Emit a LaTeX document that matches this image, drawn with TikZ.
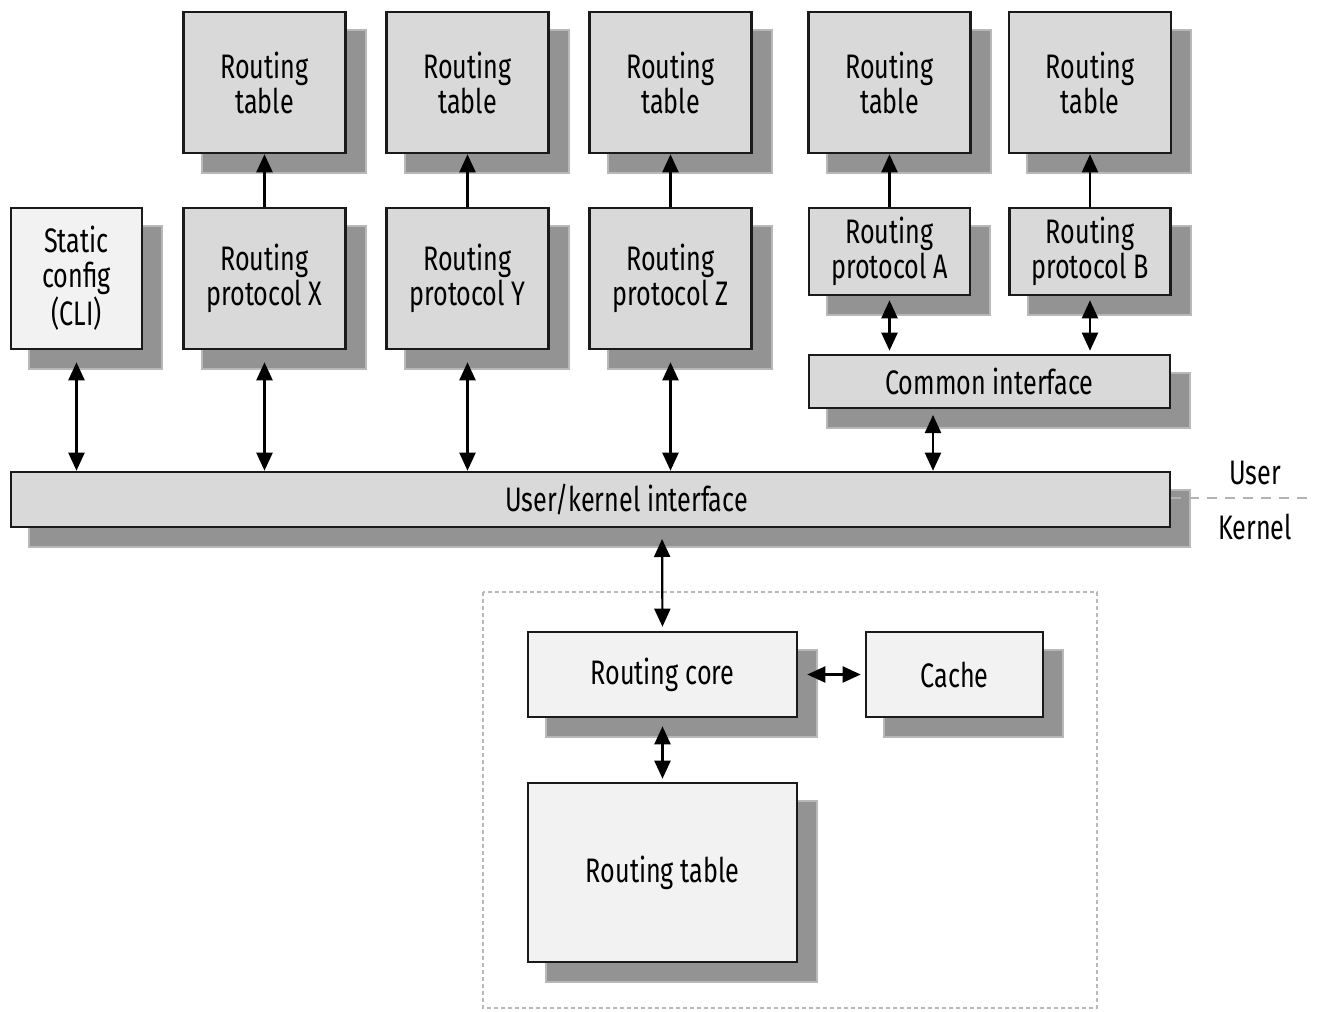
\documentclass[tikz,border=0pt]{standalone}
\usepackage{fontspec}
\setmainfont[FakeStretch=0.74]{Fira Sans}
\usetikzlibrary{arrows.meta, positioning, shadows}
\definecolor{rtfill}{HTML}{D9D9D9}
\definecolor{rtlight}{HTML}{F2F2F2}
\definecolor{rtline}{HTML}{1A1A1A}
\definecolor{rtshade}{HTML}{939393}
\definecolor{rtfringe}{HTML}{B8B8B8}

\tikzset{
  dims/.style 2 args={minimum width=#1*0.5pt, minimum height=#2*0.5pt},
  box/.style={draw=rtline, line width=1.3pt, fill=rtfill, align=center, inner sep=0pt,
    font=\fontsize{17}{17.5}\selectfont,
    general shadow={shadow xshift=9.5pt, shadow yshift=-9.5pt, fill=rtfringe, draw=rtfringe, line width=2pt},
    general shadow={shadow xshift=9.5pt, shadow yshift=-9.5pt, fill=rtshade}},
  lightbox/.style={box, fill=rtlight},
  link/.style={line width=1.1pt, -{Triangle[length=9pt, width=8pt]}},
  dlink/.style={line width=1.1pt, {Triangle[length=9pt, width=8pt]}-{Triangle[length=9pt, width=8pt]}},
}

\begin{document}
\begin{tikzpicture}[x=0.5pt, y=-0.5pt]
  \useasboundingbox (0,0) rectangle (1319,1012);

  % kernel side boundary
  \draw[gray!55, line width=0.6pt, dash pattern=on 2pt off 1.5pt] (483,592) rectangle (1097,1008);

  % user space: one table per protocol
  \foreach \nm/\cx in {x/264.5, y/467.5, z/670.5, a/889.5, b/1090} {
    \node[box, dims={162}{141}] (tab\nm) at (\cx,82.5) {Routing\\table};
  }
  \node[lightbox, dims={131}{141}] (st) at (76.5,278.5) {Static\\config\\(CLI)};
  \foreach \nm/\cx/\lt in {x/264.5/X, y/467.5/Y, z/670.5/Z} {
    \node[box, dims={162}{141}] (pro\nm) at (\cx,278.5) {Routing\\protocol \lt};
  }
  \foreach \nm/\cx/\lt in {a/889.5/A, b/1090/B} {
    \node[box, dims={161}{87}] (pro\nm) at (\cx,251.5) {Routing\\protocol \lt};
  }
  \node[box, dims={361}{53}] (common) at (989.5,381.5) {Common interface};
  \node[box, dims={1159}{55}] (uki) at (590.5,499.5) {\hspace*{36pt}User/kernel interface};

  % kernel
  \node[lightbox, dims={269}{85}] (core) at (662.5,674.5) {Routing core};
  \node[lightbox, dims={177}{85}] (cache) at (954.5,674.5) {Cache};
  \node[lightbox, dims={269}{179}] (ktab) at (662.5,872.5) {Routing table};

  % connectors
  \foreach \nm in {x,y,z,a,b}
    \draw[link] (pro\nm) -- (tab\nm);
  \foreach \nm in {st,prox,proy,proz}
    \draw[dlink, shorten <=6pt] (\nm.south) -- (\nm.south |- uki.north);
  \foreach \nm in {a,b}
    \draw[dlink, shorten <=2pt, shorten >=1.5pt] (pro\nm.south) -- (pro\nm.south |- common.north);
  \coordinate (cidown) at (933,408);
  \draw[dlink, shorten <=3.5pt] (cidown) -- (cidown |- uki.north);
  \coordinate (ukidown) at (662,527);
  \draw[dlink, shorten <=6pt, shorten >=2pt] (ukidown) -- (core.north);
  \draw[dlink, shorten <=4.5pt, shorten >=2pt] (core.east) -- (cache.west);
  \draw[dlink, shorten <=4pt, shorten >=1.5pt] (core.south) -- (ktab.north);

  % user / kernel split
  \coordinate (splitend) at (1310,498);
  \draw[gray!60, line width=1.2pt, dash pattern=on 5pt off 4pt] (uki.east |- splitend) -- (splitend);
  \node[font=\fontsize{17}{17.5}\selectfont] (user) at (1255,473) {User};
  \node[font=\fontsize{17}{17.5}\selectfont] (kernel) at (1255,527) {Kernel};
\end{tikzpicture}
\end{document}
